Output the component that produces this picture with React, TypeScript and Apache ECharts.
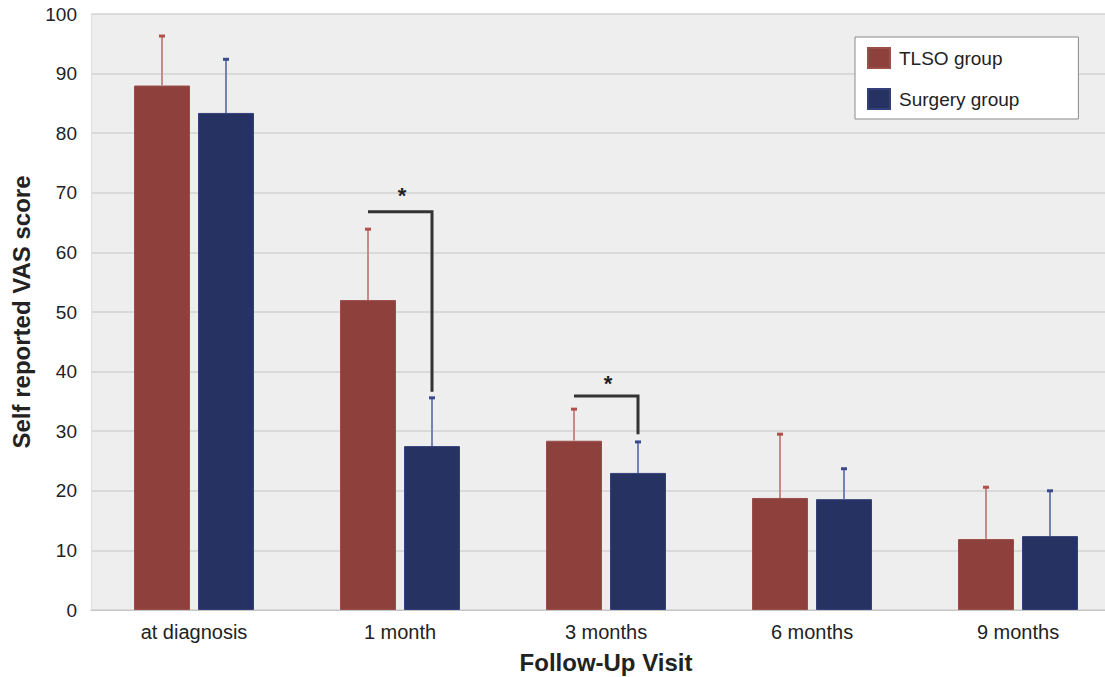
import React, { useEffect, useRef } from "react";
import * as echarts from "echarts";

const categories = ["at diagnosis", "1 month", "3 months", "6 months", "9 months"];
const tlsoMean = [88.0, 52.0, 28.4, 18.8, 11.9];
const tlsoUpper = [96.3, 63.9, 33.7, 29.5, 20.6];
const surgeryMean = [83.4, 27.5, 23.0, 18.6, 12.4];
const surgeryUpper = [92.4, 35.6, 28.2, 23.7, 20.0];
// significance brackets: category index, bracket top value, right drop end value, star value
const bracketCategory = [1, 2];
const bracketTop = [66.8, 35.9];
const bracketEnd = [36.6, 29.5];
const starValue = [69.6, 38.0];

const FONT = "'Liberation Sans', Arial, Helvetica, sans-serif";
const BAR_W = 56;
const BAR_GAP = 8;
const OFFSET = (BAR_W + BAR_GAP) / 2;

export default function App() {
  const ref = useRef<HTMLDivElement>(null);
  useEffect(() => {
    if (!ref.current) return;
    const chart = echarts.init(ref.current, undefined, { renderer: "svg" });

    const errorSeries = (name: string, mean: number[], upper: number[], sign: number, stroke: string, cap: string) => ({
      type: "custom",
      name,
      z: 4,
      silent: true,
      data: mean.map((m, i) => [i, m, upper[i]]),
      encode: { x: 0, y: [1, 2] },
      renderItem: (params: any, api: any) => {
        const idx = api.value(0);
        const base = api.coord([idx, api.value(1)]);
        const top = api.coord([idx, api.value(2)]);
        const x = base[0] + sign * OFFSET;
        return {
          type: "group",
          children: [
            { type: "line", shape: { x1: x, y1: base[1], x2: x, y2: top[1] }, style: { stroke, lineWidth: 2 } },
            { type: "line", shape: { x1: x - 3, y1: top[1], x2: x + 3, y2: top[1] }, style: { stroke: cap, lineWidth: 3 } },
          ],
        };
      },
    });

    const option: any = {
      animation: false,
      backgroundColor: "#ffffff",
      textStyle: { fontFamily: FONT },
      grid: {
        left: 91,
        top: 14,
        width: 1030,
        height: 596,
        show: true,
        backgroundColor: "#eeeeee",
        borderWidth: 0,
        containLabel: false,
        outerBoundsMode: "none",
      },
      legend: {
        data: ["TLSO group", "Surgery group"],
        orient: "vertical",
        left: 855,
        top: 37,
        padding: [10, 59, 9, 12],
        itemGap: 19,
        itemWidth: 22,
        itemHeight: 20,
        icon: "rect",
        backgroundColor: "#ffffff",
        borderColor: "#8a8a8a",
        borderWidth: 1,
        borderRadius: 0,
        textStyle: { fontFamily: FONT, fontSize: 19, color: "#222", padding: [0, 0, 0, 4] },
      },
      xAxis: {
        type: "category",
        data: categories,
        name: "Follow-Up Visit",
        nameLocation: "middle",
        nameGap: 40,
        nameTextStyle: { fontFamily: FONT, fontSize: 24, fontWeight: "bold", color: "#222" },
        axisTick: { show: false },
        axisLine: { show: true, lineStyle: { color: "#c4c4c4", width: 1 } },
        axisLabel: { fontFamily: FONT, fontSize: 20, color: "#222", margin: 12 },
        splitLine: { show: false },
      },
      yAxis: {
        type: "value",
        min: 0,
        max: 100,
        interval: 10,
        name: "Self reported VAS score",
        nameLocation: "middle",
        nameGap: 58,
        nameRotate: 90,
        nameTextStyle: { fontFamily: FONT, fontSize: 24, fontWeight: "bold", color: "#222" },
        axisLine: { show: true, lineStyle: { color: "#dcdcdc", width: 1 } },
        axisTick: { show: false },
        axisLabel: { fontFamily: FONT, fontSize: 19, color: "#222", margin: 14 },
        splitLine: { show: true, lineStyle: { color: "#d2d2d2", width: 1.5 } },
      },
      series: [
        {
          type: "bar",
          name: "TLSO group",
          data: tlsoMean,
          barWidth: BAR_W,
          barGap: `${(BAR_GAP / BAR_W) * 100}%`,
          itemStyle: { color: "#8e403c", borderColor: "#9a4e4a", borderWidth: 1 },
          z: 2,
        },
        {
          type: "bar",
          name: "Surgery group",
          data: surgeryMean,
          barWidth: BAR_W,
          itemStyle: { color: "#263262", borderColor: "#34407a", borderWidth: 1 },
          z: 2,
        },
        errorSeries("tlsoErr", tlsoMean, tlsoUpper, -1, "#c88a88", "#b0504c"),
        errorSeries("surgErr", surgeryMean, surgeryUpper, 1, "#7482b6", "#3c4a8c"),
        {
          type: "custom",
          name: "brackets",
          z: 5,
          silent: true,
          data: bracketCategory.map((c, i) => [c, bracketTop[i], bracketEnd[i], starValue[i]]),
          encode: { x: 0, y: [1, 2, 3] },
          renderItem: (params: any, api: any) => {
            const idx = api.value(0);
            const top = api.coord([idx, api.value(1)]);
            const end = api.coord([idx, api.value(2)]);
            const star = api.coord([idx, api.value(3)]);
            const xl = top[0] - OFFSET;
            const xr = top[0] + OFFSET;
            return {
              type: "group",
              children: [
                {
                  type: "polyline",
                  shape: { points: [[xl, top[1]], [xr, top[1]], [xr, end[1]]] },
                  style: { stroke: "#333333", lineWidth: 3, fill: "none" },
                },
                {
                  type: "text",
                  style: {
                    text: "*",
                    x: star[0] + 2,
                    y: star[1],
                    align: "center",
                    verticalAlign: "middle",
                    fontFamily: FONT,
                    fontSize: 22,
                    fontWeight: "bold",
                    fill: "#222",
                  },
                },
              ],
            };
          },
        },
      ],
    };
    chart.setOption(option);
    return () => chart.dispose();
  }, []);
  return (
    <div
      ref={ref}
      style={{ position: "fixed", left: 0, top: 0, width: 1105, height: 677, overflow: "hidden" }}
    />
  );
}
